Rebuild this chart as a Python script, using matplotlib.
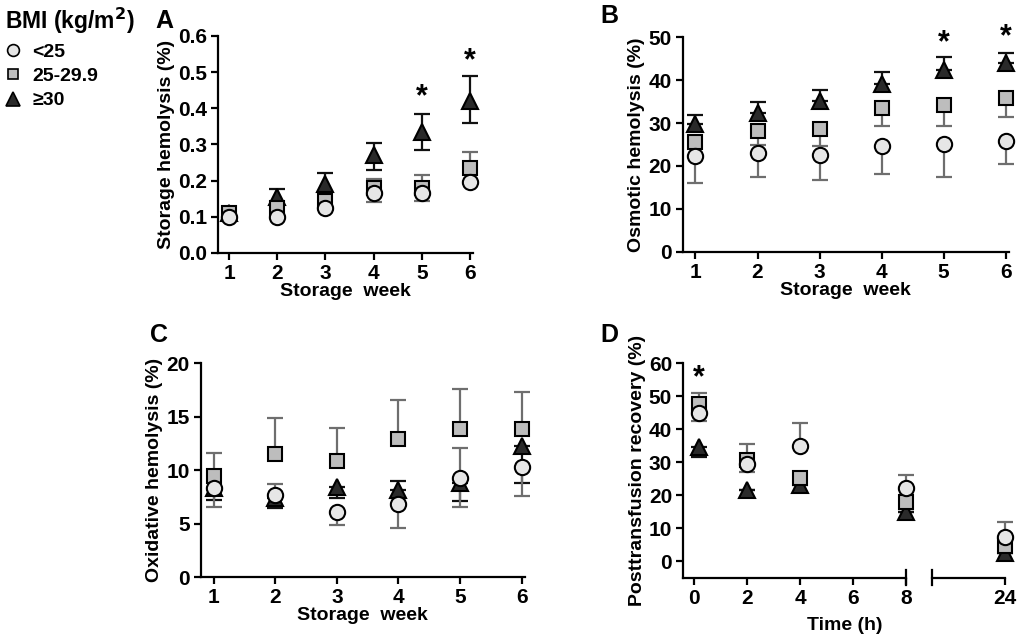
import numpy as np
import matplotlib
matplotlib.use('Agg')
import matplotlib.pyplot as plt
from matplotlib.lines import Line2D

plt.rcParams['font.family'] = ['Liberation Sans', 'DejaVu Sans']
plt.rcParams['font.weight'] = 'bold'
plt.rcParams['axes.labelweight'] = 'bold'

groups = ['<25', '25-29.9', '\u226530']
weeks = [1, 2, 3, 4, 5, 6]

# A: storage hemolysis (%) - means, upper and lower error bar ends (nan = not drawn)
a_mean = {'<25': [0.10, 0.10, 0.123, 0.165, 0.165, 0.195],
          '25-29.9': [0.11, 0.125, 0.145, 0.18, 0.18, 0.235],
          '\u226530': [0.11, 0.155, 0.19, 0.27, 0.335, 0.42]}
a_hi = {'<25': [np.nan] * 6,
        '25-29.9': [np.nan, np.nan, np.nan, 0.205, 0.215, 0.28],
        '\u226530': [0.12, 0.177, 0.22, 0.305, 0.385, 0.49]}
a_lo = {'<25': [np.nan, np.nan, np.nan, 0.142, 0.145, np.nan],
        '25-29.9': [np.nan] * 6,
        '\u226530': [np.nan, 0.135, 0.163, 0.23, 0.285, 0.36]}
a_star_x = [5, 6]
a_star_y = [0.43, 0.53]

# B: osmotic hemolysis (%)
b_mean = {'<25': [22.2, 23.1, 22.6, 24.7, 25.0, 25.9],
          '25-29.9': [25.5, 28.1, 28.7, 33.4, 34.1, 35.9],
          '\u226530': [29.7, 32.3, 35.1, 39.0, 42.4, 43.9]}
b_hi = {'<25': [np.nan] * 6,
        '25-29.9': [np.nan] * 6,
        '\u226530': [31.9, 34.8, 37.6, 42.0, 45.5, 46.4]}
b_lo = {'<25': [16.1, 17.5, 16.7, 18.0, 17.4, 20.4],
        '25-29.9': [np.nan, 24.9, 24.7, 29.3, 29.2, 31.3],
        '\u226530': [np.nan] * 6}
b_star_x = [5, 6]
b_star_y = [48.5, 50.0]

# C: oxidative hemolysis (%)
c_mean = {'<25': [8.3, 7.7, 6.1, 6.8, 9.3, 10.3],
          '25-29.9': [9.5, 11.5, 10.9, 12.9, 13.9, 13.9],
          '\u226530': [8.3, 7.4, 8.4, 8.2, 8.8, 12.3]}
c_hi = {'<25': [np.nan, 8.7, np.nan, np.nan, 12.1, np.nan],
        '25-29.9': [11.6, 14.9, 14.0, 16.6, 17.6, 17.3],
        '\u226530': [np.nan, np.nan, np.nan, 9.0, np.nan, np.nan]}
c_lo = {'<25': [6.6, np.nan, 4.9, 4.6, 6.6, 7.6],
        '25-29.9': [np.nan] * 6,
        '\u226530': [7.2, 6.5, 7.4, np.nan, 7.1, 8.8]}

# D: posttransfusion recovery (%)
d_time = [0.17, 2, 4, 8, 24]
d_mean = {'<25': [44.9, 29.5, 35.0, 22.2, 7.4],
          '25-29.9': [47.6, 30.7, 25.2, 18.1, 4.5],
          '\u226530': [34.8, 21.7, 23.2, 14.8, 2.5]}
d_hi = {'<25': [np.nan, np.nan, 41.8, 26.2, 11.8],
        '25-29.9': [50.9, 35.6, np.nan, np.nan, np.nan],
        '\u226530': [np.nan] * 5}
d_lo = {'<25': [42.5, 27.2, np.nan, np.nan, np.nan],
        '25-29.9': [np.nan, np.nan, np.nan, 16.0, np.nan],
        '\u226530': [31.6, np.nan, 20.9, np.nan, np.nan]}
d_star_x = [0.17]
d_star_y = [55.5]

style = {'<25': dict(marker='o', mfc='#e6e6e6', ms=11, ecol='#6e6e6e'),
         '25-29.9': dict(marker='s', mfc='#bdbdbd', ms=10, ecol='#6e6e6e'),
         '\u226530': dict(marker='^', mfc='#2a2a2a', ms=12, ecol='#111111')}
order = ['\u226530', '25-29.9', '<25']

TICK_FS = 15
LABEL_FS = 14


def draw(ax, x, mean, hi, lo):
    for g in order:
        m = np.array(mean[g], float)
        up = np.nan_to_num(np.array(hi[g], float) - m)
        dn = np.nan_to_num(m - np.array(lo[g], float))
        s = style[g]
        ax.errorbar(x, m, yerr=[dn, up], fmt='none', ecolor=s['ecol'],
                    elinewidth=1.6, capsize=6, capthick=1.6, zorder=1, clip_on=False)
    for g in order:
        s = style[g]
        ax.plot(x, mean[g], ls='none', marker=s['marker'], ms=s['ms'], mfc=s['mfc'],
                mec='black', mew=1.5, zorder=3, clip_on=False)


def style_ax(ax):
    for sp in ['top', 'right']:
        ax.spines[sp].set_visible(False)
    for sp in ['left', 'bottom']:
        ax.spines[sp].set_linewidth(1.6)
    ax.tick_params(width=1.6, length=5, labelsize=TICK_FS, pad=3)
    for lab in ax.get_xticklabels() + ax.get_yticklabels():
        lab.set_fontweight('bold')


fig = plt.figure(figsize=(10.19, 6.42), dpi=100)

# A
axA = fig.add_axes([0.214, 0.606, 0.250, 0.338])
draw(axA, weeks, a_mean, a_hi, a_lo)
axA.set_xlim(0.77, 6.06)
axA.set_ylim(0, 0.6)
axA.set_xticks(weeks)
axA.set_yticks(np.arange(0, 0.61, 0.1))
axA.yaxis.set_major_formatter(matplotlib.ticker.FormatStrFormatter('%.1f'))
axA.set_xlabel('Storage  week', fontsize=LABEL_FS, labelpad=0)
axA.set_ylabel('Storage hemolysis (%)', fontsize=LABEL_FS, labelpad=2)
for x, y in zip(a_star_x, a_star_y):
    axA.text(x, y, '*', ha='center', va='center', fontsize=22, fontweight='bold')
style_ax(axA)

# B
axB = fig.add_axes([0.670, 0.608, 0.320, 0.334])
draw(axB, weeks, b_mean, b_hi, b_lo)
axB.set_xlim(0.795, 6.05)
axB.set_ylim(0, 50)
axB.set_xticks(weeks)
axB.set_yticks(np.arange(0, 51, 10))
axB.set_xlabel('Storage  week', fontsize=LABEL_FS, labelpad=0)
axB.set_ylabel('Osmotic hemolysis (%)', fontsize=LABEL_FS, labelpad=2)
for x, y in zip(b_star_x, b_star_y):
    axB.text(x, y, '*', ha='center', va='center', fontsize=22, fontweight='bold')
style_ax(axB)

# C
axC = fig.add_axes([0.197, 0.101, 0.318, 0.333])
draw(axC, weeks, c_mean, c_hi, c_lo)
axC.set_xlim(0.79, 6.05)
axC.set_ylim(0, 20)
axC.set_xticks(weeks)
axC.set_yticks(np.arange(0, 21, 5))
axC.set_xlabel('Storage  week', fontsize=LABEL_FS, labelpad=0)
axC.set_ylabel('Oxidative hemolysis (%)', fontsize=LABEL_FS, labelpad=2)
style_ax(axC)

# D (broken x axis)
axD = fig.add_axes([0.6705, 0.100, 0.2185, 0.334])
axD2 = fig.add_axes([0.915, 0.100, 0.0713, 0.334], sharey=axD)
draw(axD, d_time[:4], {g: v[:4] for g, v in d_mean.items()},
     {g: v[:4] for g, v in d_hi.items()}, {g: v[:4] for g, v in d_lo.items()})
draw(axD2, d_time[4:], {g: v[4:] for g, v in d_mean.items()},
     {g: v[4:] for g, v in d_hi.items()}, {g: v[4:] for g, v in d_lo.items()})
axD.set_xlim(-0.42, 8.0)
axD.set_ylim(-5, 60)
axD.set_xticks([0, 2, 4, 6, 8])
axD.set_yticks(np.arange(0, 61, 10))
axD.set_ylabel('Posttransfusion recovery (%)', fontsize=LABEL_FS, labelpad=2)
for x, y in zip(d_star_x, d_star_y):
    axD.text(x, y, '*', ha='center', va='center', fontsize=22, fontweight='bold')
style_ax(axD)
axD2.set_xlim(21.0, 24.0)
axD2.set_xticks([24])
style_ax(axD2)
axD2.spines['left'].set_visible(False)
axD2.tick_params(axis='y', left=False, labelleft=False)
axD.plot([1, 1], [-0.035, 0.035], transform=axD.transAxes, color='black', lw=1.6, clip_on=False)
axD2.plot([0, 0], [-0.035, 0.035], transform=axD2.transAxes, color='black', lw=1.6, clip_on=False)
fig.text(0.829, 0.026, 'Time (h)', ha='center', va='center', fontsize=LABEL_FS, fontweight='bold')

# panel letters
fig.text(0.152, 0.968, 'A', fontsize=18, fontweight='bold', va='center')
fig.text(0.589, 0.975, 'B', fontsize=18, fontweight='bold', va='center')
fig.text(0.147, 0.478, 'C', fontsize=18, fontweight='bold', va='center')
fig.text(0.589, 0.478, 'D', fontsize=18, fontweight='bold', va='center')

# legend
handles = [Line2D([], [], ls='none', marker=style[g]['marker'], ms=style[g]['ms'] - 2.5,
                  mfc=style[g]['mfc'], mec='black', mew=1.2) for g in groups]
leg = fig.legend(handles, groups, loc='upper left', bbox_to_anchor=(-0.012, 1.018),
                 title='BMI (kg/m$^\\mathbf{2}$)', frameon=False,
                 handlelength=0.8, handletextpad=0.6, labelspacing=0.35,
                 prop={'weight': 'bold', 'size': 14})
leg.get_title().set_fontweight('bold')
leg.get_title().set_fontsize(16.5)
leg._legend_box.align = 'left'

fig.savefig('out.png', dpi=100)
